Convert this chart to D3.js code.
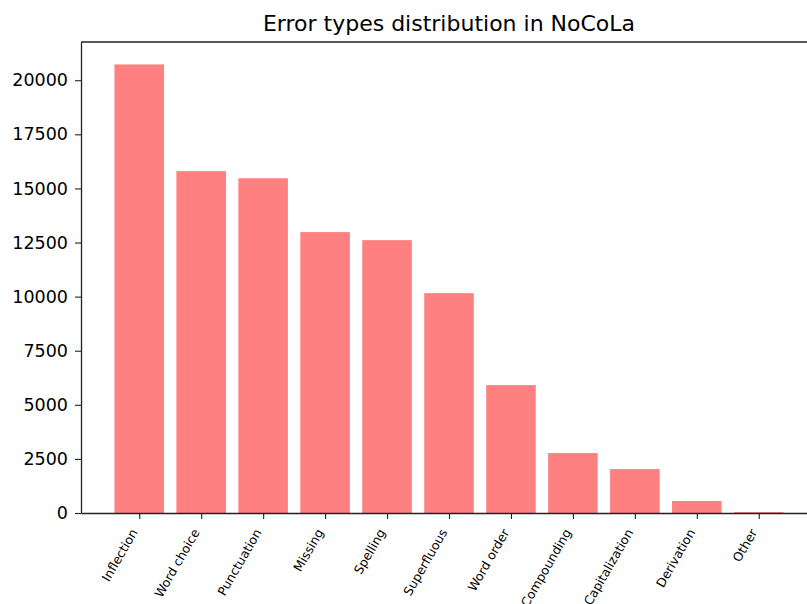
<!DOCTYPE html>
<html>
<head>
<meta charset="utf-8">
<script src="https://cdn.jsdelivr.net/npm/d3@7"></script>
<style>
  body { margin: 0; background: #fff; }
  text { font-family: "DejaVu Sans", sans-serif; fill: #000; }
</style>
</head>
<body>
<div id="chart"></div>
<script>
const categories = ["Inflection", "Word choice", "Punctuation", "Missing", "Spelling",
  "Superfluous", "Word order", "Compounding", "Capitalization", "Derivation", "Other"];
const counts = [20730, 15800, 15470, 12980, 12610, 10160, 5910, 2770, 2030, 555, 40];
const yTicks = [0, 2500, 5000, 7500, 10000, 12500, 15000, 17500, 20000];

const width = 807;
const height = 604;
const margin = {top: 42, left: 81, bottom: 91};
const plotRight = 817; // axes run past the window edge

const svg = d3.select("#chart")
    .append("svg")
    .attr("width", width)
    .attr("height", height);

// matplotlib style x limits: [-0.4 - 5%, n - 0.6 + 5%]
const n = categories.length;
const pad = 0.05 * (n - 1 + 0.8);
const x = d3.scaleLinear()
    .domain([-0.4 - pad, n - 0.6 + pad])
    .range([margin.left, plotRight]);

const y = d3.scaleLinear()
    .domain([0, d3.max(counts) * 1.05])
    .range([height - margin.bottom, margin.top]);

// bars
svg.append("g")
  .selectAll("rect")
  .data(counts)
  .enter()
  .append("rect")
    .attr("x", (d, i) => x(i - 0.4))
    .attr("width", x(0.8) - x(0))
    .attr("y", d => y(d))
    .attr("height", d => y(0) - y(d))
    .attr("fill", "#ff8080");

// y axis
const yAxis = svg.append("g")
    .attr("transform", `translate(${margin.left},0)`)
    .call(d3.axisLeft(y).tickValues(yTicks).tickSize(6).tickPadding(7)
      .tickSizeOuter(0).tickFormat(d3.format("d")));
yAxis.select(".domain").attr("stroke", "#222").attr("stroke-width", 1.3);
yAxis.selectAll(".tick line").attr("stroke", "#222").attr("stroke-width", 1.1);
yAxis.selectAll(".tick text")
    .style("font-size", "17.5px")
    .style("font-family", "DejaVu Sans");

// x axis
const xAxis = svg.append("g")
    .attr("transform", `translate(0,${y(0)})`)
    .call(d3.axisBottom(x).tickValues(d3.range(n)).tickSize(6).tickSizeOuter(0).tickFormat(""));
xAxis.select(".domain").attr("stroke", "#222").attr("stroke-width", 1.3);
xAxis.selectAll(".tick line").attr("stroke", "#222").attr("stroke-width", 1.1);

// rotated category labels
svg.append("g")
  .selectAll("text")
  .data(categories)
  .enter()
  .append("text")
    .attr("transform", (d, i) => `translate(${x(i) - 5},${y(0) + 17}) rotate(-60)`)
    .attr("text-anchor", "end")
    .attr("dy", "0.35em")
    .style("font-size", "12.5px")
    .text(d => d);

// top spine
svg.append("line")
    .attr("x1", margin.left)
    .attr("x2", plotRight)
    .attr("y1", margin.top)
    .attr("y2", margin.top)
    .attr("stroke", "#222")
    .attr("stroke-width", 1.3);

// title
svg.append("text")
    .attr("x", (margin.left + plotRight) / 2)
    .attr("y", 31)
    .attr("text-anchor", "middle")
    .style("font-size", "22px")
    .text("Error types distribution in NoCoLa");
</script>
</body>
</html>
